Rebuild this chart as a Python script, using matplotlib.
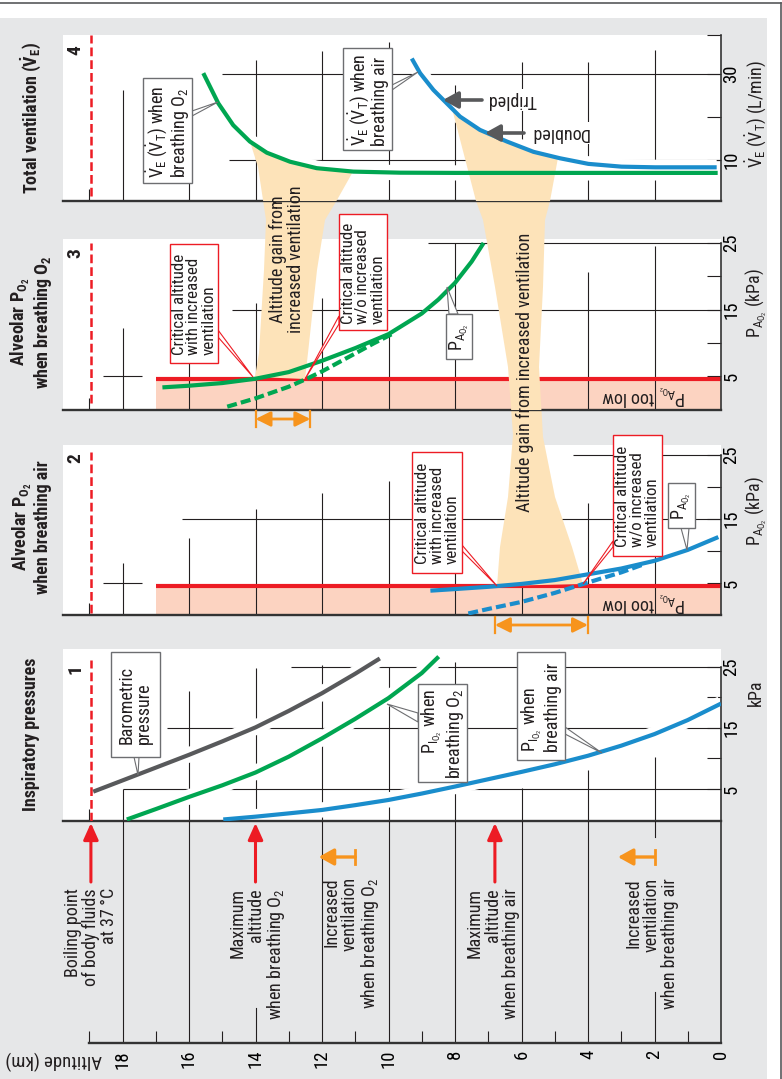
import matplotlib
matplotlib.use("Agg")
import matplotlib.pyplot as plt
import numpy as np
from matplotlib import font_manager as fm
from matplotlib.patches import Polygon, Rectangle

avail = {f.name for f in fm.fontManager.ttflist}
FONT = next((f for f in ["Roboto Condensed", "Liberation Sans Narrow", "Open Sans"] if f in avail), "DejaVu Sans")
K = 1.0 if FONT in ("Roboto Condensed", "Liberation Sans Narrow") else 0.8

plt.rcParams["font.family"] = [FONT, "DejaVu Sans"]
plt.rcParams["mathtext.fontset"] = "custom"
plt.rcParams["mathtext.rm"] = FONT
plt.rcParams["mathtext.it"] = FONT + ":italic"
plt.rcParams["mathtext.bf"] = FONT + ":bold"
plt.rcParams["text.color"] = "#231f20"

# ---------------- data (altitude in km) ----------------
# 1: inspiratory pressures (kPa)
baro_alt = [18.88, 18, 17, 16, 15, 14, 13, 12, 11, 10.26]
baro_kpa = [4.56, 6.4, 8.5, 10.6, 12.8, 15.1, 17.8, 20.7, 23.9, 26.4]
pio2_o2_alt = [17.87, 17, 16, 15, 14, 13, 12, 11, 10, 9, 8.49]
pio2_o2_kpa = [0.0, 1.7, 3.7, 5.6, 7.7, 10.3, 13.3, 16.5, 19.9, 24.0, 26.7]
pio2_air_alt = [14.97, 14, 13, 12, 11, 10, 9, 8, 7, 6, 5, 4, 3, 2, 1, 0]
pio2_air_kpa = [0.0, 0.46, 1.0, 1.56, 2.35, 3.2, 4.25, 5.4, 6.6, 7.8, 9.05, 10.45, 12.1, 14.0, 16.3, 19.0]

# 2: alveolar PO2 breathing air (kPa)
pao2_air_alt = [8.74, 8, 7, 6, 5, 4, 3, 2, 1, 0.08]
pao2_air_kpa = [3.85, 4.1, 4.45, 4.9, 5.5, 6.4, 7.3, 8.5, 10.2, 12.2]
pao2_air_flat_alt = [7.6, 7, 6, 5, 4.14, 3, 2.3]
pao2_air_flat_kpa = [0.3, 1.0, 2.1, 3.5, 4.9, 6.7, 8.0]

# 3: alveolar PO2 breathing O2 (kPa)
pao2_o2_alt = [16.8, 16, 15, 14, 13, 12, 11, 10, 9, 8.5, 8, 7.5, 7.14]
pao2_o2_kpa = [3.3, 3.55, 3.95, 4.6, 5.6, 7.3, 9.2, 11.3, 14.4, 16.5, 19.0, 22.2, 25.0]
pao2_o2_flat_alt = [14.85, 14, 13, 12.5, 12, 11, 10.45, 9.9]
pao2_o2_flat_kpa = [0.4, 1.65, 3.4, 4.5, 5.7, 8.4, 9.9, 11.3]

# 4: total ventilation (L/min)
ve_o2_alt = [15.57, 15.12, 14.67, 14.17, 13.66, 12.96, 12.16, 11.06, 9.65, 8.0, 0.1]
ve_o2 = [30.2, 23.2, 18.1, 14.3, 11.7, 9.6, 8.1, 7.3, 7.05, 7.0, 7.0]
ve_air_alt = [9.30, 9.05, 8.65, 8.25, 7.85, 7.25, 6.44, 5.64, 4.84, 3.99, 2.99, 1.98, 0.13]
ve_air = [33.6, 30.2, 26.3, 23.2, 20.1, 17.0, 14.3, 11.9, 10.4, 9.1, 8.45, 8.3, 8.3]

PAO2_MIN = 4.5            # kPa, "PAO2 too low"
LOW_FROM = 17.0           # km, shaded zone start
BOIL = 18.95              # km, boiling point of body fluids
crit_o2 = [14.0, 12.35]   # critical altitude with / without more ventilation
crit_air = [6.8, 4.0]
max_o2, max_air = 14.0, 6.8
vent_o2 = [11.0, 12.1]
vent_air = [2.0, 3.1]

alt_major = [0, 2, 4, 6, 8, 10, 12, 14, 16, 18]
alt_minor = [1, 3, 5, 7, 9, 11, 13, 15, 17, 19]

# ---------------- layout ----------------
W, H = 782, 1079
X0, PXKM = 721, 33.25
XL = (X0 - 63) / PXKM


def px(a):
    return X0 - PXKM * a


BLUE, GREEN, GREY = "#1a8dcc", "#00a651", "#58595b"
RED, SALMON, TAN = "#ed1c24", "#fcd3c1", "#fde3b9"
ORANGE, BG, INK = "#f7941d", "#e6e7e8", "#231f20"
FS, TFS, KFS = 13 * K, 13 * K, 13.5 * K

fig = plt.figure(figsize=(W / 100, H / 100), dpi=100)
bg = fig.add_axes([0, 0, 1, 1], zorder=0)
top = fig.add_axes([0, 0, 1, 1], zorder=5)
for o in (bg, top):
    o.set_xlim(0, W)
    o.set_ylim(H, 0)
    o.axis("off")
bg.add_patch(Rectangle((0, 18), 767, H - 18, fc=BG, ec="none"))
bg.plot([0, 781], [3, 3], color=GREY, lw=1.2)
bg.plot([781, 781], [3, H], color=GREY, lw=1.2)


def panel(T, B, ylim, major, minor, top_tick=25):
    ax = fig.add_axes([63 / W, (H - B) / H, (X0 - 63) / W, (B - T) / H], zorder=1)
    ax.set_xlim(XL, 0)
    ax.set_ylim(*ylim)
    ax.spines["left"].set_visible(False)
    ax.spines["top"].set_visible(False)
    ax.spines["bottom"].set_linewidth(1.7)
    ax.spines["bottom"].set_color("#333333")
    ax.spines["right"].set_linewidth(1.2)
    ax.spines["right"].set_color("#333333")
    ax.spines["right"].set_bounds(ylim[0], top_tick)
    ax.set_xticks([])
    ax.set_xticks([19], minor=True)
    ax.tick_params(axis="x", which="minor", direction="in", length=8.5, width=0.8, color=INK)
    ax.yaxis.tick_right()
    ax.set_yticks(major)
    ax.set_yticks(minor, minor=True)
    ax.tick_params(axis="y", which="both", direction="in", length=10, width=0.8, color=INK,
                   labelsize=KFS, labelrotation=90, pad=1)
    for lab in ax.get_yticklabels():
        lab.set_va("center")
    return ax


def grid(ax, verticals, horizontals):
    y0 = ax.get_ylim()[0]
    for a, t in verticals.items():
        ax.vlines(a, y0, t, colors=INK, lw=0.8, zorder=1.5)
    for v, a0 in horizontals:
        ax.hlines(v, a0, 0, colors=INK, lw=0.8, zorder=1.5)


def curve(ax, alts, vals, color, ls="-", halo=False):
    if halo:
        ax.plot(alts, vals, color="white", lw=11, solid_capstyle="butt", zorder=2.5)
    ax.plot(alts, vals, color=color, lw=3, ls=ls, solid_capstyle="butt",
            dash_capstyle="butt", solid_joinstyle="round", zorder=4)


def boil_line(ax, y0, y1):
    ax.axvline(BOIL, y0, y1, color=RED, lw=1.8, ls=(0, (3.5, 1.6)), zorder=3.6)


def low_zone(ax):
    ax.fill_between([LOW_FROM, 0], ax.get_ylim()[0], PAO2_MIN, color=SALMON, lw=0, zorder=1)
    ax.hlines(PAO2_MIN, LOW_FROM, 0, colors=RED, lw=3, zorder=2)


# panel 4
ax4 = panel(35, 201, (0.465, 39.07), [10, 30], [20, 39.07], top_tick=39.07)
grid(ax4, {18: 26.3, 16: 4.9, 14: 33.3, 12: 35.3, 10: 37.4, 8: 27.4, 6: 32.8, 4: 32.8, 2: 35.6},
     [(30, 15.0), (10, 14.8)])
curve(ax4, ve_o2_alt, ve_o2, GREEN, halo=True)
curve(ax4, ve_air_alt, ve_air, BLUE, halo=True)
boil_line(ax4, 0.03, 1.0)

# panel 3
ax3 = panel(239, 410, (-0.1, 25.6), [5, 15, 25], [10, 20])
low_zone(ax3)
grid(ax3, {18: 12.2, 16: 7.0, 14: 16.0, 12: 16.7, 10: 11.5, 8: 25, 6: 25, 4: 20.7, 2: 24.5},
     [(15, 14.7), (25, 8.8)])
ax3.hlines(5, 18.6, 17.4, colors=INK, lw=0.8, zorder=1.5)
curve(ax3, pao2_o2_flat_alt, pao2_o2_flat_kpa, GREEN, ls=(0, (2.4, 1.0)))
curve(ax3, pao2_o2_alt, pao2_o2_kpa, GREEN)
boil_line(ax3, 0.04, 0.977)

# panel 2
ax2 = panel(445, 615, (0.06, 26.54), [5, 15, 25], [10, 20])
low_zone(ax2)
grid(ax2, {18: 8.2, 16: 12.0, 14: 16.5, 12: 19.0, 10: 21.0, 8: 22, 6: 23, 4: 17.5, 2: 20},
     [(15, 16.2), (25, 4.45)])
ax2.hlines(5, 18.6, 17.4, colors=INK, lw=0.8, zorder=1.5)
curve(ax2, pao2_air_flat_alt, pao2_air_flat_kpa, BLUE, ls=(0, (2.4, 1.0)))
curve(ax2, pao2_air_alt, pao2_air_kpa, BLUE)
boil_line(ax2, 0.01, 0.96)

# panel 1
ax1 = panel(649, 821, (-0.25, 27.95), [5, 15, 25], [10, 20])
grid(ax1, {18: 5.0, 16: 21, 14: 24.8, 12: 25.3, 10: 25, 8: 25.9, 6: 5.2, 4: 8.1, 2: 10.3},
     [(5, 18.0), (15, 16.67), (25, 12.93)])
curve(ax1, baro_alt, baro_kpa, GREY, halo=True)
curve(ax1, pio2_o2_alt, pio2_o2_kpa, GREEN, halo=True)
curve(ax1, pio2_air_alt, pio2_air_kpa, BLUE, halo=True)
boil_line(ax1, 0.0, 0.936)

# altitude axis
axb = fig.add_axes([63 / W, (H - 1043) / H, (X0 - 63) / W, (1043 - 821) / H], zorder=1)
axb.set_xlim(XL, 0)
axb.set_ylim(0, 1)
axb.patch.set_alpha(0)
axb.spines["left"].set_visible(False)
axb.spines["top"].set_visible(False)
axb.spines["bottom"].set_bounds(0, 19)
axb.spines["bottom"].set_linewidth(1.7)
axb.spines["bottom"].set_color("#333333")
axb.spines["right"].set_linewidth(1.2)
axb.spines["right"].set_color("#333333")
axb.set_yticks([])
axb.set_xticks(alt_major)
axb.set_xticks(alt_minor, minor=True)
axb.tick_params(axis="x", which="major", length=0, pad=5, labelsize=KFS, labelrotation=90)
axb.tick_params(axis="x", which="minor", direction="in", length=8.5, width=0.8, color=INK)
for a in alt_major[1:]:
    spans = {14: [(0, 0.158)], 2: [(0, 0.23), (0.928, 1)]}.get(a, [(0, 1)])
    for lo, hi in spans:
        axb.axvline(a, lo, hi, color=INK, lw=0.8)


# tan bands "altitude gain from increased ventilation"
def along(ax, alts, vals, a_hi, a_lo):
    a = np.linspace(a_hi, a_lo, 40)
    v = np.interp(a, alts[::-1], vals[::-1])
    d = ax.transData.transform(np.column_stack([a, v]))
    return [tuple(p) for p in bg.transData.inverted().transform(d)]


band_a = (along(ax4, ve_o2_alt, ve_o2, (X0 - 250) / PXKM, (X0 - 353) / PXKM)
          + [(337, 200), (325, 220), (317, 270), (308, 353), (305, 379),
             (255, 377), (259, 353), (264, 270), (266, 220), (263, 200), (258, 167)])
band_b = (along(ax4, ve_air_alt, ve_air, (X0 - 452) / PXKM, (X0 - 558) / PXKM)
          + [(550, 201), (545, 220), (543, 287), (539, 367), (543, 437), (555, 497),
             (572, 547), (583, 584), (497, 586), (500, 547), (508, 497), (513, 435),
             (508, 367), (495, 287), (483, 220), (476, 201)])
for band in (band_a, band_b):
    for host in (bg, ax4, ax3, ax2):
        host.add_patch(Polygon(band, closed=True, fc=TAN, ec="none",
                               transform=bg.transData, zorder=3 if host is not bg else 1))

top.text(287, 259, "Altitude gain from\nincreased ventilation", rotation=90, ha="center",
         va="center", fontsize=FS, linespacing=1.0)
top.text(525, 372, "Altitude gain from increased ventilation", rotation=90, ha="center",
         va="center", fontsize=FS)


# callout boxes
def callout(box, text, base, tip, ec, ma="left", fs=FS):
    x0, y0, x1, y1 = box
    top.add_patch(Polygon([base[0], tip, base[1]], closed=True, fc="white", ec=ec, lw=0.8, zorder=6))
    top.add_patch(Rectangle((x0, y0), x1 - x0, y1 - y0, fc="white", ec=ec, lw=1.0, zorder=7))
    top.text((x0 + x1) / 2, (y0 + y1) / 2 + 1, text, rotation=90, ha="center", va="center",
             multialignment=ma, fontsize=fs, linespacing=0.98, zorder=8)


BOXGREY = "#6d6e71"
VE = r"$\dot{\mathrm{V}}_{\mathrm{E}}$ ($\dot{\mathrm{V}}_{\mathrm{T}}$)"
PIO2 = r"P$_{\mathrm{I}_{\mathrm{O}_2}}$"
PAO2 = r"P$_{\mathrm{A}_{\mathrm{O}_2}}$"
CRIT_W = "Critical altitude\nwith increased\nventilation"
CRIT_WO = "Critical altitude\nw/o increased\nventilation"
CFS = 12.2 * K

callout((111, 652, 160, 757), "Barometric\npressure", [(134, 757), (139, 757)], (138, 775), BOXGREY)
callout((418, 684, 467, 782), PIO2 + " when\nbreathing O$_2$", [(418, 713), (418, 722)], (387, 704),
        BOXGREY, ma="right")
callout((517, 652, 565, 760), PIO2 + " when\nbreathing air", [(565, 727), (565, 734)], (602, 753), BOXGREY)
callout((143, 78, 192, 183), VE + " when\nbreathing O$_2$", [(192, 111), (192, 116)], (218, 102), BOXGREY)
callout((343, 48, 392, 150), VE + " when\nbreathing air", [(392, 85), (392, 90)], (418, 72), BOXGREY)
callout((170, 244, 218, 363), CRIT_W, [(218, 330), (218, 337)], (253, 377), RED, fs=CFS)
callout((339, 214, 387, 330), CRIT_WO, [(339, 316), (339, 324)], (305, 379), RED, fs=CFS)
callout((446, 314, 472, 359), PAO2, [(449, 314), (458, 314)], (447, 287), BOXGREY)
callout((412, 452, 462, 573), CRIT_W, [(462, 545), (462, 551)], (497, 586), RED, fs=CFS)
callout((613, 435, 662, 556), CRIT_WO, [(613, 541), (613, 547)], (583, 584), RED, fs=CFS)
callout((668, 483, 695, 528), PAO2, [(681, 528), (689, 528)], (687, 550), BOXGREY)

for y in (395, 602):
    top.text(643, y, PAO2 + " too low", rotation=180, ha="center", va="center", fontsize=FS)


def arrow(x0, y0, x1, y1, color, lw, hl, hw, style="-|>"):
    top.annotate("", xy=(x1, y1), xytext=(x0, y0),
                 arrowprops=dict(arrowstyle=f"{style},head_length={hl},head_width={hw}",
                                 color=color, lw=lw, shrinkA=0, shrinkB=0))


# tripled / doubled
top.text(512, 100, "Tripled", rotation=180, ha="center", va="center", fontsize=FS,
         bbox=dict(fc="white", ec="none", pad=1.5))
arrow(482, 100, 443, 100, GREY, 2.6, 0.9, 0.5)
top.text(559, 133, "Doubled", rotation=180, ha="center", va="center", fontsize=FS,
         bbox=dict(fc="white", ec="none", pad=1.5))
arrow(524, 133, 485, 133, GREY, 2.6, 0.9, 0.5)

# orange spans under panels 3 and 2
for (a0, a1), y in ((crit_o2, 419), (crit_air, 625)):
    arrow(px(a0), y, px(a1), y, ORANGE, 2.0, 0.9, 0.45, style="<|-|>")
    for a in (a0, a1):
        top.plot([px(a), px(a)], [y - 8, y + 8], color=ORANGE, lw=1.6)

# arrows and notes below the altitude axis
for a in (BOIL, max_o2, max_air):
    arrow(px(a), 882, px(a), 823, RED, 2.2, 1.0, 0.45)
for a0, a1 in (vent_o2, vent_air):
    arrow(px(a0), 857, px(a1), 857, ORANGE, 2.4, 0.9, 0.5)
    top.plot([px(a0), px(a0)], [850, 864], color=ORANGE, lw=2.0)

notes = [(91, 888, "Boiling point\nof body fluids\nat 37\u2009°C"),
         (258, 888, "Maximum\naltitude\nwhen breathing O$_2$"),
         (352, 877, "Increased\nventilation\nwhen breathing O$_2$"),
         (493, 888, "Maximum\naltitude\nwhen breathing air"),
         (652, 878, "Increased\nventilation\nwhen breathing air")]
for x, y, s in notes:
    top.text(x, y, s, rotation=90, ha="center", va="top", multialignment="right",
             fontsize=FS, linespacing=1.0)

# titles, panel numbers, axis names
titles = [(118, "Total ventilation ($\\mathbf{\\dot{V}_{E}}$)"),
          (322, "Alveolar P$_{\\mathbf{O_2}}$\nwhen breathing O$_\\mathbf{2}$"),
          (527, "Alveolar P$_{\\mathbf{O_2}}$\nwhen breathing air"),
          (734, "Inspiratory pressures")]
for y, s in titles:
    top.text(31, y, s, rotation=90, ha="center", va="center", fontsize=TFS,
             fontweight="bold", linespacing=1.0)
for y, s in ((50, "4"), (253, "3"), (458, "2"), (669, "1")):
    top.text(75, y, s, rotation=90, ha="center", va="center", fontsize=14 * K, fontweight="bold")

for y, s in ((114, VE + " (L/min)"), (303, PAO2 + " (kPa)"), (511, PAO2 + " (kPa)"), (693, "kPa")):
    top.text(756, y, s, rotation=90, ha="center", va="center", fontsize=FS)
top.text(54, 1060, "Altitude (km)", rotation=180, ha="center", va="center", fontsize=KFS)

fig.savefig("out.png", dpi=100)
